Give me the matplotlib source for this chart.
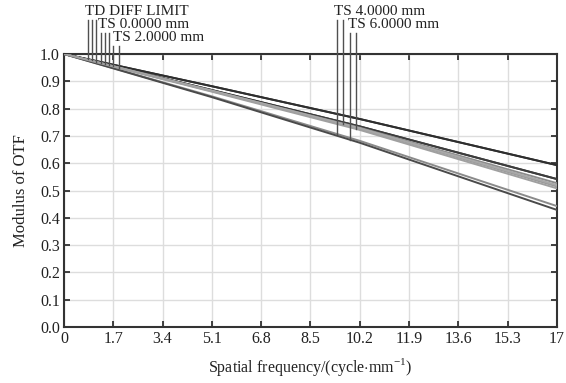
import numpy as np
import matplotlib.pyplot as plt

plt.rcParams['font.family'] = ['Liberation Serif', 'DejaVu Serif']
plt.rcParams['mathtext.fontset'] = 'custom'
plt.rcParams['mathtext.rm'] = 'Liberation Serif'

# spatial frequency sample points (cycle/mm)
freq = [0, 5.1, 10.2, 17]

# MTF curves
diff_t = [1.0, 0.882, 0.762, 0.593]
diff_s = [1.0, 0.882, 0.762, 0.593]
ts0_t = [1.0, 0.868, 0.735, 0.542]
ts0_s = [1.0, 0.868, 0.735, 0.542]
ts2_t = [1.0, 0.865, 0.730, 0.527]
ts2_s = [1.0, 0.864, 0.727, 0.515]
ts4_t = [1.0, 0.845, 0.682, 0.443]
ts4_s = [1.0, 0.866, 0.728, 0.520]
ts6_t = [1.0, 0.842, 0.675, 0.429]
ts6_s = [1.0, 0.862, 0.722, 0.508]

curves = [diff_t, diff_s, ts0_t, ts0_s, ts2_t, ts2_s, ts4_t, ts4_s, ts6_t, ts6_s]
colors = ['#2e2e2e', '#2e2e2e', '#3c3c3c', '#3c3c3c', '#8c8c8c', '#9a9a9a',
          '#8a8a8a', '#a8a8a8', '#4a4a4a', '#a0a0a0']

xticks = [0, 1.7, 3.4, 5.1, 6.8, 8.5, 10.2, 11.9, 13.6, 15.3, 17]
xticklabels = ['0', '1.7', '3.4', '5.1', '6.8', '8.5', '10.2', '11.9', '13.6', '15.3', '17']
yticks = np.round(np.arange(0, 1.01, 0.1), 1)

# legend labels: text, x position, y position (data units, above the axes)
labels = ['TD DIFF LIMIT', 'TS 0.0000 mm', 'TS 2.0000 mm', 'TS 4.0000 mm', 'TS 6.0000 mm']
label_x = [0.72, 1.16, 1.70, 9.30, 9.79]
label_y = [1.132, 1.085, 1.037, 1.132, 1.085]

# marker lines: x, top of line, curve index
mark_x = [0.83, 0.97, 1.10, 1.28, 1.41, 1.55, 1.69, 1.90, 9.41, 9.62, 9.86, 10.07]
mark_top = [1.125, 1.125, 1.125, 1.077, 1.077, 1.077, 1.029, 1.029, 1.125, 1.125, 1.077, 1.077]
mark_curve = [0, 1, 2, 2, 3, 4, 4, 5, 6, 7, 8, 9]

fig = plt.figure(figsize=(5.66, 3.83), dpi=100)
ax = fig.add_axes([0.113, 0.146, 0.871, 0.713])

for c, col in zip(curves, colors):
    ax.plot(freq, c, color=col, lw=1.4, zorder=3)

for mx, top, ci in zip(mark_x, mark_top, mark_curve):
    yend = np.interp(mx, freq, curves[ci])
    ax.plot([mx, mx], [yend, top], color='#505050', lw=1.0, clip_on=False, zorder=4)

for t, lx, ly in zip(labels, label_x, label_y):
    ax.text(lx, ly, t, fontsize=11, color='#222222', va='bottom', ha='left')

ax.set_xlim(0, 17)
ax.set_ylim(0, 1.0)
ax.set_xticks(xticks)
ax.set_xticklabels(xticklabels)
ax.set_yticks(yticks)
ax.set_yticklabels(['%.1f' % v for v in yticks])
ax.grid(True, color='#dddddd', lw=1.0)
ax.set_axisbelow(True)
ax.tick_params(direction='in', length=4, width=1.2, top=True, right=True,
               labelsize=11.5, colors='#222222', pad=3)
for s in ax.spines.values():
    s.set_linewidth(1.5)
    s.set_color('#333333')

ax.set_xlabel('Spatial frequency/(cycle$\\cdot$mm$^{-1}$)', fontsize=11.5,
              color='#222222', labelpad=6)
ax.set_ylabel('Modulus of OTF', fontsize=12, color='#222222', labelpad=8)

fig.savefig('out.png', dpi=100)
